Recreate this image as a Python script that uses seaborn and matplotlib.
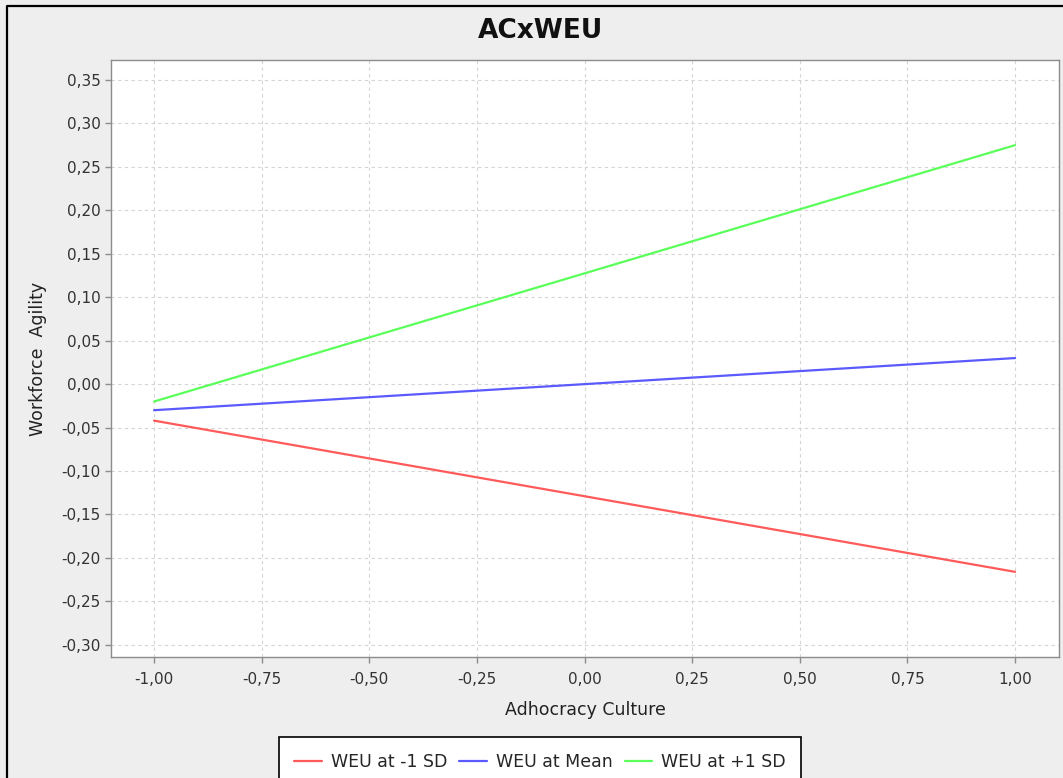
import pandas as pd
import numpy as np
import matplotlib
matplotlib.use("Agg")
import matplotlib.pyplot as plt
import matplotlib.ticker as mticker
from matplotlib.lines import Line2D
import seaborn as sns

# datos
culture = [-1.0, 1.0]
weu_low = [-0.042, -0.216]
weu_mean = [-0.030, 0.030]
weu_high = [-0.020, 0.275]
series = ["WEU at -1 SD", "WEU at Mean", "WEU at +1 SD"]
colors = ["#ff5a5a", "#5a5aff", "#5aff5a"]

df = pd.DataFrame({
    "x": culture * 3,
    "y": weu_low + weu_mean + weu_high,
    "serie": [s for s in series for _ in culture],
})

sns.set_style("white")
plt.rcParams["font.family"] = ["DejaVu Sans"]

fig = plt.figure(figsize=(10.63, 7.78), dpi=100, facecolor="#eeeeee")
ax = fig.add_axes([111 / 1063, 1 - 657 / 778, (1059 - 111) / 1063, (657 - 60) / 778])
ax.set_facecolor("white")

sns.lineplot(data=df, x="x", y="y", hue="serie", palette=dict(zip(series, colors)),
             linewidth=1.6, ax=ax, legend=False)

ax.set_xlim(-1.10, 1.102)
ax.set_ylim(-0.314, 0.373)
ax.xaxis.set_major_locator(mticker.MultipleLocator(0.25))
ax.yaxis.set_major_locator(mticker.MultipleLocator(0.05))
fmt = mticker.FuncFormatter(lambda v, p: ("%.2f" % v).replace(".", ",").replace("-0,00", "0,00"))
ax.xaxis.set_major_formatter(fmt)
ax.yaxis.set_major_formatter(fmt)

ax.grid(True, color="#d4d4d4", linestyle=(0, (3, 3)), linewidth=0.8)
for s in ax.spines.values():
    s.set_color("#8c8c8c")
    s.set_linewidth(1.0)
ax.tick_params(axis="both", direction="out", length=4, width=1, color="#8c8c8c",
               labelsize=11, labelcolor="#333333", bottom=True, left=True)
ax.tick_params(axis="x", pad=7)

ax.set_xlabel("Adhocracy Culture", fontsize=12.5, color="#222222", labelpad=10)
ax.set_ylabel("Workforce  Agility", fontsize=12.5, color="#222222", labelpad=10)

fig.text(540 / 1063, 1 - 31 / 778, "ACxWEU", ha="center", va="center",
         fontsize=19, fontweight="bold", color="#111111")

handles = [Line2D([0], [0], color=c, lw=1.6) for c in colors]
leg = fig.legend(handles, series, loc="upper center", bbox_to_anchor=(540 / 1063, 1 - 737 / 778),
                 ncol=3, fontsize=12.5, frameon=True, fancybox=False, handlelength=1.6,
                 handletextpad=0.5, columnspacing=0.7, borderpad=0.9, borderaxespad=0)
leg.get_frame().set_edgecolor("black")
leg.get_frame().set_linewidth(1.2)
leg.get_frame().set_facecolor("white")
leg.get_frame().set_alpha(1)

# marco negro del panel
fig.add_artist(Line2D([7 / 1063, 7 / 1063, 1.0], [0.0, 1 - 6 / 778, 1 - 6 / 778],
                      transform=fig.transFigure, color="black", lw=1.6))

fig.savefig("out.png", dpi=100, facecolor=fig.get_facecolor())
